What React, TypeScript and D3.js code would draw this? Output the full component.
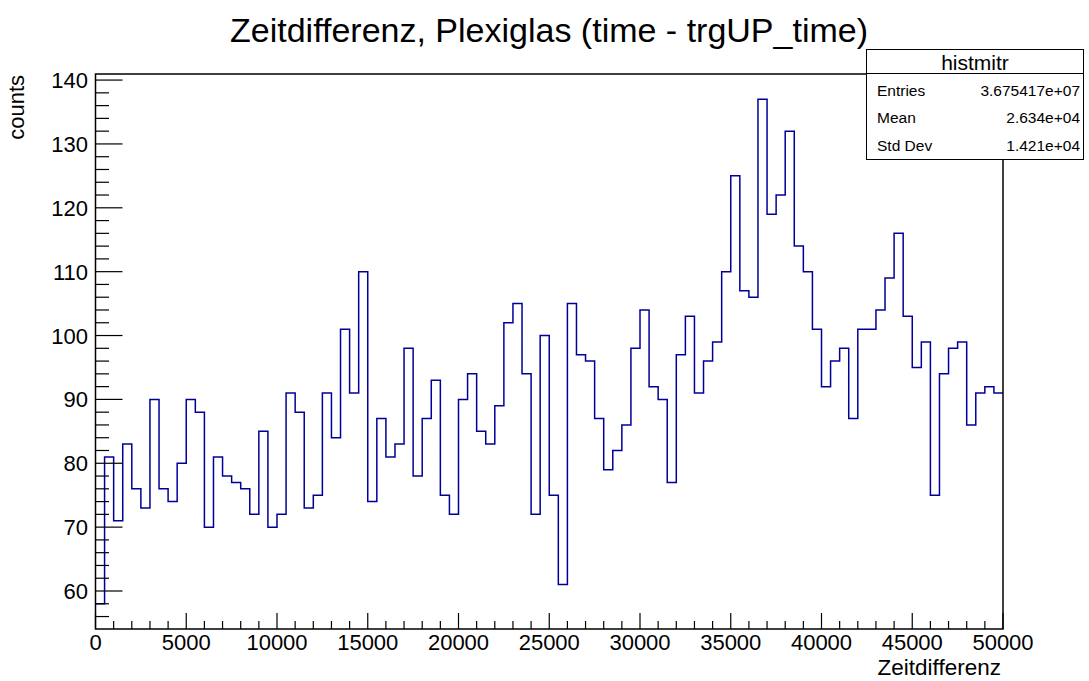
import React from "react";
import * as d3 from "d3";

const counts: number[] = [
  58, 81, 71, 83, 76, 73, 90, 76, 74, 80,
  90, 88, 70, 81, 78, 77, 76, 72, 85, 70,
  72, 91, 88, 73, 75, 91, 84, 101, 91, 110,
  74, 87, 81, 83, 98, 78, 87, 93, 75, 72,
  90, 94, 85, 83, 89, 102, 105, 94, 72, 100,
  75, 61, 105, 97, 96, 87, 79, 82, 86, 98,
  104, 92, 90, 77, 97, 103, 91, 96, 99, 110,
  125, 107, 106, 137, 119, 122, 132, 114, 110, 101,
  92, 96, 98, 87, 101, 101, 104, 109, 116, 103,
  95, 99, 75, 94, 98, 99, 86, 91, 92, 91,
];
const xMin = 0;
const xMax = 50000;
const binWidth = 500;
const xMajorTicks = [0, 5000, 10000, 15000, 20000, 25000, 30000, 35000, 40000, 45000, 50000];
const yMajorTicks = [60, 70, 80, 90, 100, 110, 120, 130, 140];
const title = "Zeitdifferenz, Plexiglas (time - trgUP_time)";
const xTitle = "Zeitdifferenz";
const yTitle = "counts";
const statsName = "histmitr";
const statsLabels = ["Entries", "Mean", "Std Dev"];
const statsValues = ["3.675417e+07", "2.634e+04", "1.421e+04"];

const W = 1089;
const H = 681;
const L = 95.5;
const R = 1003;
const T = 74;
const B = 629;
const FONT = "'Liberation Sans', Arial, Helvetica, sans-serif";

export default function App() {
  const yLo = d3.min(counts)!;
  const yHi = d3.max(counts)!;
  const m = 0.05 * (yHi - yLo);
  const x = d3.scaleLinear().domain([xMin, xMax]).range([L, R]);
  const y = d3.scaleLinear().domain([yLo - m, yHi + m]).range([B, T]);

  const pts: [number, number][] = counts.map((c, i) => [xMin + i * binWidth, c]);
  pts.push([xMax, counts[counts.length - 1]]);
  const line = d3
    .line<[number, number]>()
    .x((d) => x(d[0]))
    .y((d) => y(d[1]))
    .curve(d3.curveStepAfter);

  const xMinor = d3.range(xMin, xMax + 1, 1000).filter((v) => v % 5000 !== 0);
  const [d0, d1] = y.domain();
  const yMinor = d3
    .range(Math.ceil(d0 / 2) * 2, d1, 2)
    .filter((v) => v % 10 !== 0);

  const xTickMajor = 16;
  const xTickMinor = 8;
  const yTickMajor = 27;
  const yTickMinor = 13.5;

  const sx0 = 866.5;
  const sx1 = 1083.5;
  const sy0 = 49.5;
  const sy1 = 159.5;
  const sSep = 73.5;
  const rowBase = [96, 123, 151];

  return (
    <svg width={W} height={H} style={{ display: "block", position: "absolute", left: 0, top: 0 }} fontFamily={FONT}>
      <rect x={0} y={0} width={W} height={H} fill="#fff" />
      <text x={549} y={42} fontSize={34} textAnchor="middle" fill="#000">
        {title}
      </text>
      {/* histogram */}
      <path d={line(pts)!} fill="none" stroke="#000099" strokeWidth={1.5} />
      {/* frame */}
      <rect x={L} y={T} width={R - L} height={B - T} fill="none" stroke="#000" strokeWidth={1.5} />
      {/* x ticks */}
      {xMajorTicks.map((v) => (
        <line key={"xm" + v} x1={x(v)} x2={x(v)} y1={B} y2={B - xTickMajor} stroke="#000" strokeWidth={1.2} />
      ))}
      {xMinor.map((v) => (
        <line key={"xn" + v} x1={x(v)} x2={x(v)} y1={B} y2={B - xTickMinor} stroke="#000" strokeWidth={1.2} />
      ))}
      {xMajorTicks.map((v) => (
        <text key={"xl" + v} x={x(v)} y={650} fontSize={22} textAnchor="middle" fill="#000">
          {v}
        </text>
      ))}
      {/* y ticks */}
      {yMajorTicks.map((v) => (
        <line key={"ym" + v} x1={L} x2={L + yTickMajor} y1={y(v)} y2={y(v)} stroke="#000" strokeWidth={1.2} />
      ))}
      {yMinor.map((v) => (
        <line key={"yn" + v} x1={L} x2={L + yTickMinor} y1={y(v)} y2={y(v)} stroke="#000" strokeWidth={1.2} />
      ))}
      {yMajorTicks.map((v) => (
        <text key={"yl" + v} x={88} y={y(v) + 8} fontSize={22} textAnchor="end" fill="#000">
          {v}
        </text>
      ))}
      {/* axis titles */}
      <text x={1001} y={675} fontSize={22.5} textAnchor="end" fill="#000">
        {xTitle}
      </text>
      <text
        transform={`translate(24,${T + 1}) rotate(-90)`}
        fontSize={22}
        textAnchor="end"
        fill="#000"
      >
        {yTitle}
      </text>
      {/* stats box */}
      <rect x={sx0} y={sy0} width={sx1 - sx0} height={sy1 - sy0} fill="#fff" stroke="#000" strokeWidth={1} />
      <line x1={sx0} x2={sx1} y1={sSep} y2={sSep} stroke="#000" strokeWidth={1} />
      <text x={(sx0 + sx1) / 2} y={70} fontSize={21} textAnchor="middle" fill="#000">
        {statsName}
      </text>
      {statsLabels.map((lab, i) => (
        <text key={lab} x={877} y={rowBase[i]} fontSize={15.5} fill="#000">
          {lab}
        </text>
      ))}
      {statsValues.map((val, i) => (
        <text key={val} x={1080} y={rowBase[i]} fontSize={15.5} textAnchor="end" fill="#000">
          {val}
        </text>
      ))}
    </svg>
  );
}
